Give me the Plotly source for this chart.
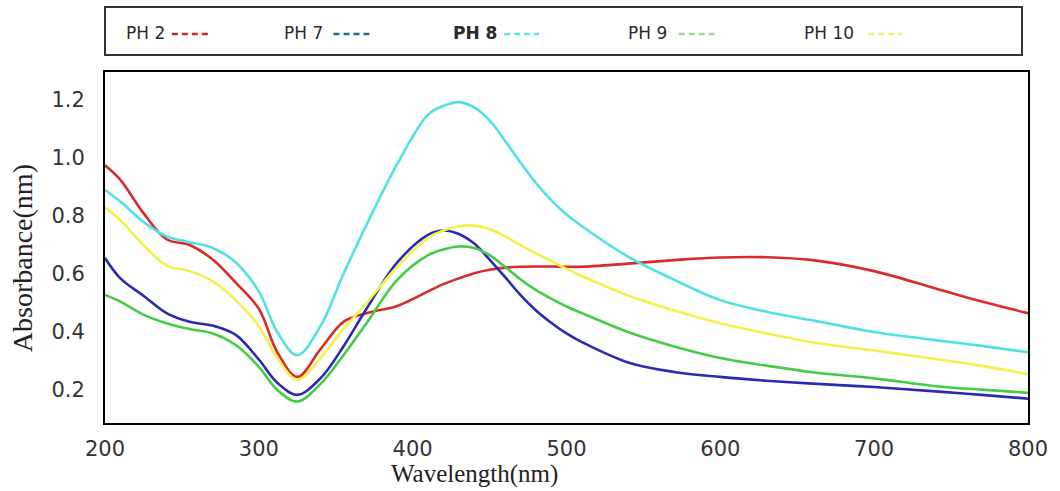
import plotly.graph_objects as go

# UV-Vis absorbance spectra at different pH values
wavelength = [200, 210, 225, 240, 255, 270, 285, 300, 312, 325, 340, 355, 370, 390, 410,
              420, 430, 440, 450, 460, 470, 480, 490, 500, 510, 540, 570, 600, 630, 660,
              700, 740, 770, 800]

ph2 = [0.975, 0.925, 0.81, 0.72, 0.70, 0.65, 0.57, 0.48, 0.33, 0.245, 0.34, 0.435, 0.465, 0.49, 0.54,
       0.565, 0.585, 0.603, 0.615, 0.622, 0.625, 0.626, 0.626, 0.625, 0.625, 0.636, 0.648, 0.657, 0.658, 0.648,
       0.61, 0.55, 0.505, 0.465]
ph7 = [0.655, 0.585, 0.525, 0.465, 0.435, 0.422, 0.39, 0.305, 0.225, 0.183, 0.24, 0.35, 0.48, 0.64, 0.735,
       0.75, 0.738, 0.705, 0.65, 0.59, 0.528, 0.475, 0.432, 0.395, 0.365, 0.295, 0.262, 0.245, 0.232, 0.222,
       0.21, 0.195, 0.183, 0.17]
ph8 = [0.89, 0.85, 0.78, 0.73, 0.71, 0.69, 0.64, 0.54, 0.40, 0.32, 0.42, 0.60, 0.77, 0.98, 1.15,
       1.18, 1.193, 1.175, 1.13, 1.06, 0.985, 0.915, 0.855, 0.805, 0.765, 0.66, 0.58, 0.51, 0.47, 0.44,
       0.40, 0.372, 0.352, 0.33]
ph9 = [0.528, 0.505, 0.46, 0.43, 0.41, 0.395, 0.355, 0.28, 0.20, 0.16, 0.22, 0.32, 0.43, 0.58, 0.665,
       0.685, 0.695, 0.69, 0.665, 0.625, 0.582, 0.545, 0.515, 0.488, 0.465, 0.40, 0.35, 0.31, 0.284, 0.261,
       0.24, 0.213, 0.201, 0.19]
ph10 = [0.83, 0.785, 0.70, 0.63, 0.61, 0.575, 0.51, 0.42, 0.31, 0.235, 0.31, 0.41, 0.50, 0.625, 0.725,
        0.75, 0.765, 0.767, 0.755, 0.73, 0.70, 0.672, 0.645, 0.618, 0.593, 0.526, 0.474, 0.43, 0.395, 0.364,
        0.336, 0.307, 0.283, 0.255]

labels = ["PH 2", "PH 7", "PH 8", "PH 9", "PH 10"]
line_colors = ["#d92b2b", "#2b2bb0", "#50e2e2", "#44cc44", "#f2f24a"]
key_colors = ["#c8282a", "#1f6f92", "#5fe3e8", "#9ed89a", "#f0f070"]
series = [ph2, ph7, ph8, ph9, ph10]

W, H = 1060, 491
L, R, T, B = 105, 30, 72, 68


def px_x(p):
    return (p - L) / (W - L - R)


def px_y(p):
    return (H - B - p) / (H - T - B)


fig = go.Figure()
for name, ys, col in zip(labels, series, line_colors):
    fig.add_trace(go.Scatter(
        x=wavelength, y=ys, name=name, mode="lines",
        line=dict(color=col, width=2.6, shape="spline", smoothing=1.0),
        showlegend=False,
    ))

# custom key row in a framed box above the plot
shapes = [dict(type="rect", xref="paper", yref="paper",
               x0=px_x(105), x1=px_x(1024), y0=px_y(55), y1=px_y(7),
               line=dict(color="#333333", width=2), fillcolor="rgba(0,0,0,0)")]
annotations = []
key_text_x = [124, 282, 452, 627, 804]
key_dash = [(172, 210), (334, 371), (505, 540), (680, 716), (870, 904)]
for i, (name, tx, (d0, d1)) in enumerate(zip(labels, key_text_x, key_dash)):
    annotations.append(dict(
        xref="paper", yref="paper", x=px_x(tx), y=px_y(33),
        xanchor="left", yanchor="middle", showarrow=False,
        text=f"<b>{name}</b>" if name == "PH 8" else name,
        font=dict(family="DejaVu Sans", size=17, color="#2a2a2a"),
    ))
    shapes.append(dict(type="line", xref="paper", yref="paper",
                       x0=px_x(d0), x1=px_x(d1), y0=px_y(34), y1=px_y(34),
                       line=dict(color=key_colors[i], width=2.5, dash="6px,4px")))

# axis titles
annotations.append(dict(
    xref="paper", yref="paper", x=px_x(475), y=px_y(474),
    xanchor="center", yanchor="middle", showarrow=False,
    text="Wavelength(nm)",
    font=dict(family="Liberation Serif", size=25, color="#222222"),
))
annotations.append(dict(
    xref="paper", yref="paper", x=px_x(22), y=px_y(258),
    xanchor="center", yanchor="middle", showarrow=False, textangle=-90,
    text="Absorbance(nm)",
    font=dict(family="Liberation Serif", size=28, color="#222222"),
))

fig.update_layout(
    width=W, height=H,
    margin=dict(l=L, r=R, t=T, b=B),
    paper_bgcolor="white", plot_bgcolor="white",
    shapes=shapes, annotations=annotations,
    xaxis=dict(
        range=[200, 800], tickvals=[200, 300, 400, 500, 600, 700, 800],
        showgrid=False, zeroline=False,
        showline=True, linecolor="black", linewidth=2, mirror=True,
        ticks="", ticklabelstandoff=6,
        tickfont=dict(family="DejaVu Sans", size=21, color="#333333"),
    ),
    yaxis=dict(
        range=[0.086, 1.297], tickvals=[0.2, 0.4, 0.6, 0.8, 1.0, 1.2],
        ticktext=["0.2", "0.4", "0.6", "0.8", "1.0", "1.2"],
        showgrid=False, zeroline=False,
        showline=True, linecolor="black", linewidth=2, mirror=True,
        ticks="", ticklabelstandoff=14,
        tickfont=dict(family="DejaVu Sans", size=21, color="#333333"),
    ),
)

fig.write_html("out.html")
